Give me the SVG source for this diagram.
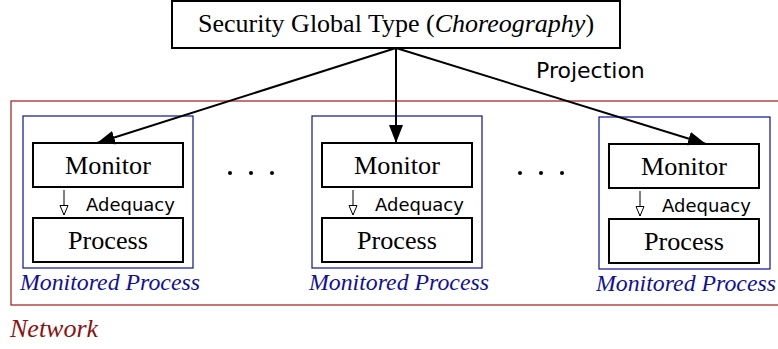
<svg xmlns="http://www.w3.org/2000/svg" width="778" height="349" viewBox="0 0 778 349">
<style>
.box{fill:#fff;stroke:#000;stroke-width:2}
.mp{fill:none;stroke:#10109a;stroke-width:1.2}
.serif{font-family:"Liberation Serif","Times New Roman",serif;fill:#000}
.lbl{font-family:"Liberation Serif",serif;font-size:26.2px;text-anchor:middle}
.mpt{font-family:"Liberation Serif",serif;font-style:italic;font-size:23.8px;fill:#10109a}
.sans{font-family:"DejaVu Sans",sans-serif;fill:#000}
.conn{stroke:#000;stroke-width:2;fill:none}
.adq{stroke:#000;stroke-width:1;fill:none}
</style>
<defs>
<marker id="ah" markerUnits="userSpaceOnUse" markerWidth="20" markerHeight="16" refX="18" refY="8" orient="auto">
<path d="M0,1 L18,8 L0,15 Z" fill="#000"/>
</marker>
<marker id="oh" markerUnits="userSpaceOnUse" markerWidth="12" markerHeight="10" refX="10" refY="4.5" orient="auto">
<path d="M0.5,0.5 L10,4.5 L0.5,8.5 Z" fill="#fff" stroke="#000" stroke-width="1"/>
</marker>
</defs>

<g id="network">
<rect x="11" y="101" width="770" height="204" fill="none" stroke="#a01818" stroke-width="1.2"/>
<text x="10" y="337" style="font-family:'Liberation Serif',serif;font-style:italic;font-size:26px;fill:#8b1010">Network</text>
</g>

<g id="global">
<rect class="box" x="172" y="1" width="448" height="47"/>
<text class="serif" x="396" y="32" font-size="26" text-anchor="middle">Security Global Type (<tspan font-style="italic">Choreography</tspan>)</text>
</g>

<g id="mp1">
<rect class="mp" x="23" y="116" width="170" height="152"/>
<rect class="box" x="33" y="143" width="150" height="44"/>
<text class="lbl" x="108" y="174">Monitor</text>
<rect class="box" x="33" y="218" width="150" height="44"/>
<text class="lbl" x="108" y="249">Process</text>
<text class="mpt" x="20" y="290">Monitored Process</text>
</g>

<g id="mp2">
<rect class="mp" x="312" y="116" width="170" height="152"/>
<rect class="box" x="322" y="143" width="150" height="44"/>
<text class="lbl" x="397" y="174">Monitor</text>
<rect class="box" x="322" y="218" width="150" height="44"/>
<text class="lbl" x="397" y="249">Process</text>
<text class="mpt" x="309" y="290">Monitored Process</text>
</g>

<g id="mp3">
<rect class="mp" x="599" y="117" width="171" height="152"/>
<rect class="box" x="609" y="144" width="150" height="44"/>
<text class="lbl" x="684" y="175">Monitor</text>
<rect class="box" x="609" y="219" width="150" height="44"/>
<text class="lbl" x="684" y="250">Process</text>
<text class="mpt" x="596" y="291">Monitored Process</text>
</g>

<g id="dots" fill="#000">
<circle cx="230" cy="173" r="2"/><circle cx="251" cy="173" r="2"/><circle cx="272" cy="173" r="2"/>
<circle cx="520" cy="173" r="2"/><circle cx="541" cy="173" r="2"/><circle cx="562" cy="173" r="2"/>
</g>

<g id="connectors">
<line class="conn" x1="396" y1="48" x2="97" y2="143" marker-end="url(#ah)"/>
<line class="conn" x1="396" y1="48" x2="396" y2="143" marker-end="url(#ah)"/>
<line class="conn" x1="396" y1="48" x2="706" y2="144" marker-end="url(#ah)"/>
<text class="sans" x="536" y="78" font-size="22">Projection</text>
<line class="adq" x1="64" y1="190" x2="64" y2="215" marker-end="url(#oh)"/>
<text class="sans" x="86" y="211" font-size="18">Adequacy</text>
<line class="adq" x1="353" y1="190" x2="353" y2="215" marker-end="url(#oh)"/>
<text class="sans" x="375" y="211" font-size="18">Adequacy</text>
<line class="adq" x1="640" y1="191" x2="640" y2="216" marker-end="url(#oh)"/>
<text class="sans" x="662" y="212" font-size="18">Adequacy</text>
</g>
</svg>
